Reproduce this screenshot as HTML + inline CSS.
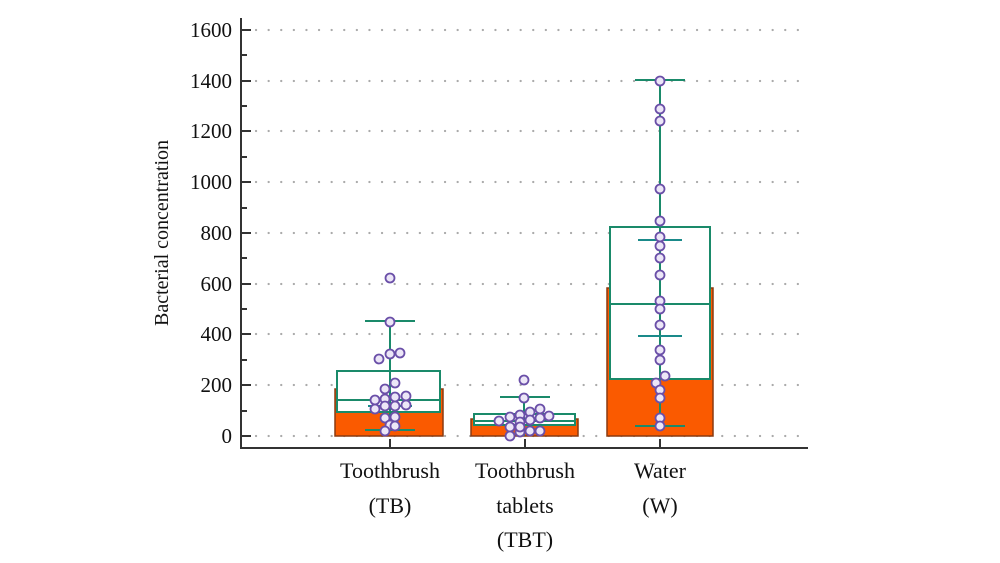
<!DOCTYPE html><html><head><style>body{margin:0;background:#fff}svg{display:block}text{font-family:"Liberation Serif",serif;fill:#111}</style></head><body>
<svg width="1000" height="563" xmlns="http://www.w3.org/2000/svg">
<g stroke="#aaa" stroke-width="2.2" stroke-dasharray="0.1 12.5" stroke-linecap="round">
<line x1="256" y1="30" x2="808" y2="30"/><line x1="256" y1="81" x2="808" y2="81"/><line x1="256" y1="131" x2="808" y2="131"/><line x1="256" y1="182" x2="808" y2="182"/><line x1="256" y1="233" x2="808" y2="233"/><line x1="256" y1="284" x2="808" y2="284"/><line x1="256" y1="334" x2="808" y2="334"/><line x1="256" y1="385" x2="808" y2="385"/><line x1="256" y1="436" x2="808" y2="436"/>
</g>
<g stroke="#333" stroke-width="2">
<line x1="241" y1="18" x2="241" y2="449"/><line x1="240" y1="448" x2="808" y2="448"/>
<path d="M241 30h10M241 81h10M241 131h10M241 182h10M241 233h10M241 284h10M241 334h10M241 385h10M241 436h10M241 55h6M241 106h6M241 157h6M241 208h6M241 258h6M241 309h6M241 360h6M241 411h6M390 448v-9M525 448v-9M660 448v-9"/>
</g>
<g font-size="21" text-anchor="end">
<text x="232" y="37">1600</text><text x="232" y="88">1400</text><text x="232" y="138">1200</text><text x="232" y="189">1000</text><text x="232" y="240">800</text><text x="232" y="291">600</text><text x="232" y="341">400</text><text x="232" y="392">200</text><text x="232" y="443">0</text>
</g>
<text font-size="20" transform="translate(168,233) rotate(-90)" text-anchor="middle">Bacterial concentration</text>
<g font-size="22" text-anchor="middle">
<text x="390" y="478">Toothbrush</text><text x="390" y="513">(TB)</text>
<text x="525" y="478">Toothbrush</text><text x="525" y="513">tablets</text><text x="525" y="547">(TBT)</text>
<text x="660" y="478">Water</text><text x="660" y="513">(W)</text>
</g>
<g fill="#fa5a00" stroke="#8a3a10" stroke-width="1.5">
<rect x="335" y="389" width="108" height="47"/><rect x="471" y="419" width="107" height="17"/><rect x="607" y="288" width="106" height="148"/>
</g>
<g stroke="#1a8a6a" stroke-width="2" fill="#fff">
<rect x="337" y="371" width="103" height="41"/><rect x="474" y="414" width="101" height="11"/><rect x="610" y="227" width="100" height="152"/>
<path d="M337 400h103M474 421h101M610 304h100" fill="none"/>
<path d="M390 321V430M365 321h50M365 430h50M524 397V436M500 397h50M660 80V426M635 80h50M635 426h50" fill="none"/>
<path d="M368 406h44M638 240h44M638 336h44" stroke="#1a8a8a" fill="none"/>
</g>
<g fill="#ece6f7" stroke="#6a4fa8" stroke-width="1.8">
<circle cx="390" cy="278" r="4.5"/><circle cx="390" cy="322" r="4.5"/><circle cx="379" cy="359" r="4.5"/><circle cx="390" cy="354" r="4.5"/><circle cx="400" cy="353" r="4.5"/><circle cx="395" cy="383" r="4.5"/><circle cx="385" cy="389" r="4.5"/><circle cx="375" cy="400" r="4.5"/><circle cx="385" cy="399" r="4.5"/><circle cx="395" cy="397" r="4.5"/><circle cx="406" cy="396" r="4.5"/><circle cx="375" cy="409" r="4.5"/><circle cx="385" cy="406" r="4.5"/><circle cx="395" cy="406" r="4.5"/><circle cx="406" cy="405" r="4.5"/><circle cx="385" cy="418" r="4.5"/><circle cx="395" cy="417" r="4.5"/><circle cx="390" cy="425" r="4.5"/><circle cx="385" cy="431" r="4.5"/><circle cx="395" cy="426" r="4.5"/>
<circle cx="524" cy="380" r="4.5"/><circle cx="524" cy="398" r="4.5"/><circle cx="499" cy="421" r="4.5"/><circle cx="510" cy="417" r="4.5"/><circle cx="520" cy="415" r="4.5"/><circle cx="530" cy="412" r="4.5"/><circle cx="540" cy="409" r="4.5"/><circle cx="549" cy="416" r="4.5"/><circle cx="510" cy="427" r="4.5"/><circle cx="520" cy="422" r="4.5"/><circle cx="530" cy="420" r="4.5"/><circle cx="540" cy="418" r="4.5"/><circle cx="510" cy="436" r="4.5"/><circle cx="520" cy="432" r="4.5"/><circle cx="530" cy="431" r="4.5"/><circle cx="540" cy="431" r="4.5"/><circle cx="520" cy="427" r="4.5"/>
<circle cx="660" cy="81" r="4.5"/><circle cx="660" cy="109" r="4.5"/><circle cx="660" cy="121" r="4.5"/><circle cx="660" cy="189" r="4.5"/><circle cx="660" cy="221" r="4.5"/><circle cx="660" cy="237" r="4.5"/><circle cx="660" cy="246" r="4.5"/><circle cx="660" cy="258" r="4.5"/><circle cx="660" cy="275" r="4.5"/><circle cx="660" cy="301" r="4.5"/><circle cx="660" cy="309" r="4.5"/><circle cx="660" cy="325" r="4.5"/><circle cx="660" cy="350" r="4.5"/><circle cx="660" cy="360" r="4.5"/><circle cx="665" cy="376" r="4.5"/><circle cx="656" cy="383" r="4.5"/><circle cx="660" cy="390" r="4.5"/><circle cx="660" cy="398" r="4.5"/><circle cx="660" cy="418" r="4.5"/><circle cx="660" cy="426" r="4.5"/>
</g>
</svg>
</body></html>
